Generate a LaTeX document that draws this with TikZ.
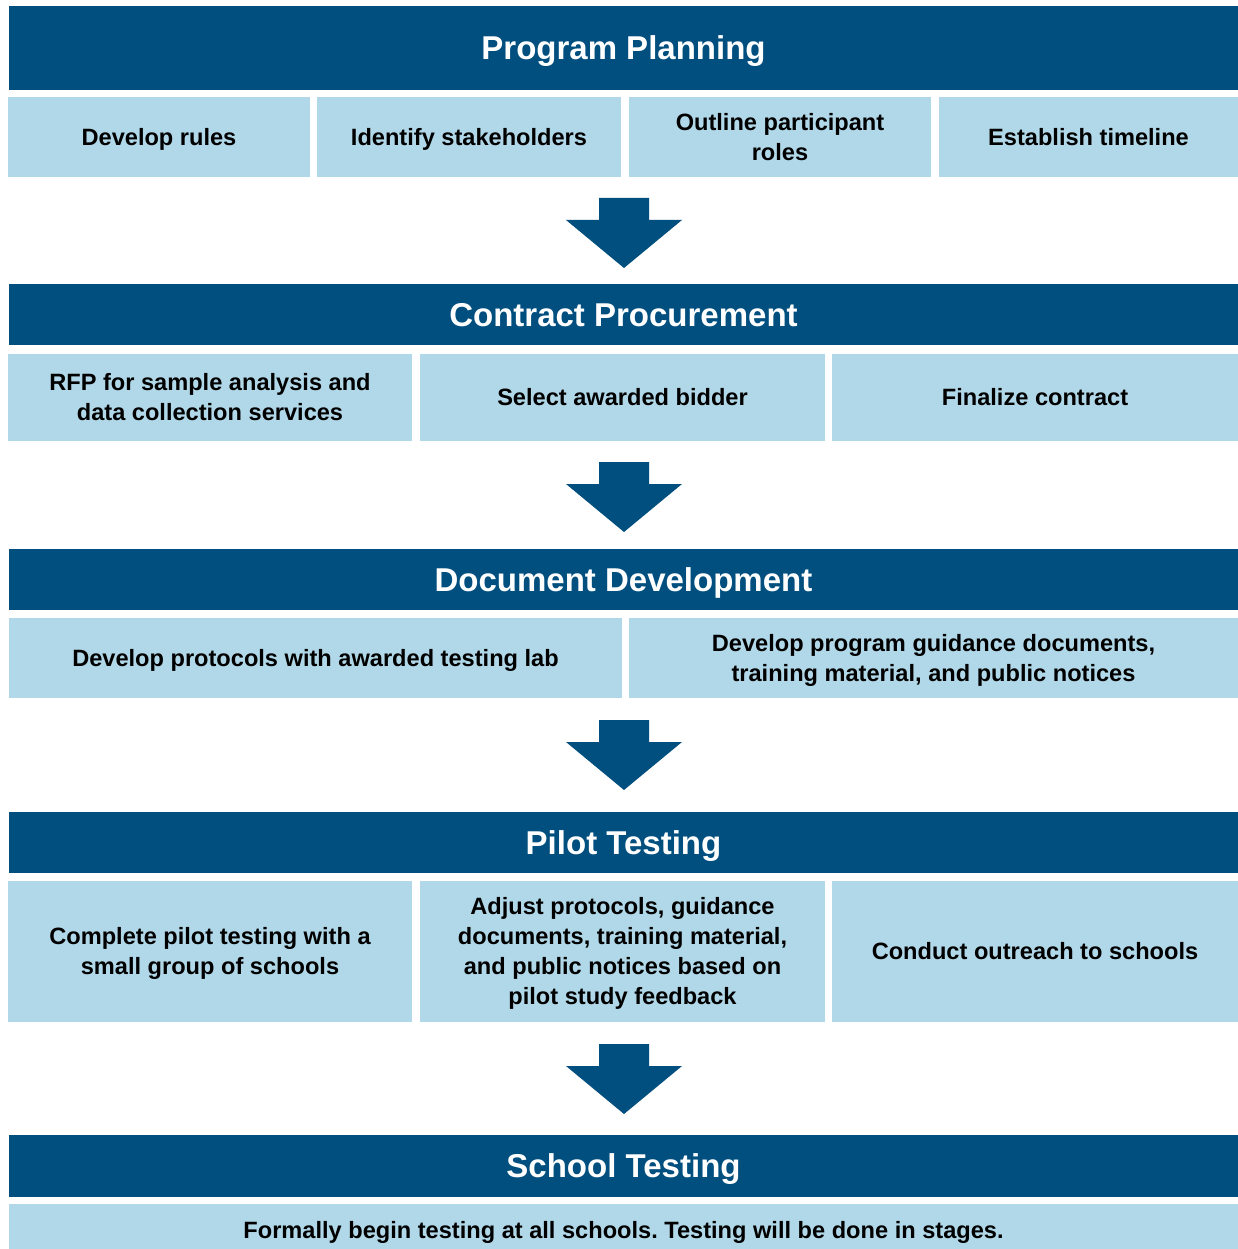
\documentclass[tikz,border=0pt]{standalone}
\usepackage{fontspec}
\setmainfont{Liberation Sans}
\frenchspacing
\definecolor{hdrblue}{HTML}{004F7F}
\definecolor{boxblue}{HTML}{B1D8E8}
\newcommand\ms{\rule[-6.6pt]{0pt}{30pt}}
\newcommand\hs{\rule[-6.4pt]{0pt}{36.4pt}}
\newcommand\bx[7]{\node[#2,minimum width={(#5-#3)*1pt},minimum height={(#6-#4)*1pt}] (#1) at ({(#3+#5)/2},{(#4+#6)/2}) {#7};}
\newcommand\blockarrow[2]{\fill[hdrblue] (599,#1) -- (649,#1) -- (649,#1+22) -- (682,#1+22) -- (624,#1+70) coordinate (#2) -- (566,#1+22) -- (599,#1+22) -- cycle;}
\begin{document}
\begin{tikzpicture}[x=1pt,y=-1pt,
  hdr/.style={fill=hdrblue, text=white, font=\fontsize{33}{38}\selectfont\bfseries, inner sep=0pt, outer sep=0pt},
  sub/.style={fill=boxblue, text=black, font=\fontsize{23.6}{30}\selectfont\bfseries, align=center, inner sep=0pt, outer sep=0pt}]
\useasboundingbox[fill=white] (0,0) rectangle (1238,1249);
% Program Planning
\bx{h1}{hdr}{9}{6}{1238}{90}{\hs Program Planning}
\bx{a1}{sub}{8}{97}{310}{177}{\ms Develop rules}
\bx{a2}{sub}{317}{97}{621}{177}{\ms Identify stakeholders}
\bx{a3}{sub}{629}{97}{931}{177}{\ms Outline participant\\\ms roles}
\bx{a4}{sub}{939}{97}{1238}{177}{\ms Establish timeline}
\blockarrow{198}{t1}
% Contract Procurement
\bx{h2}{hdr}{9}{284}{1238}{345}{\hs Contract Procurement}
\bx{b1}{sub}{8}{354}{412}{441}{\ms RFP for sample analysis and\\\ms data collection services}
\bx{b2}{sub}{420}{354}{825}{441}{\ms Select awarded bidder}
\bx{b3}{sub}{832}{354}{1238}{441}{\ms Finalize contract}
\blockarrow{462}{t2}
% Document Development
\bx{h3}{hdr}{9}{549}{1238}{610}{\hs Document Development}
\bx{c1}{sub}{9}{618}{622}{698}{\ms Develop protocols with awarded testing lab}
\bx{c2}{sub}{629}{618}{1238}{698}{\ms Develop program guidance documents,\\\ms training material, and public notices}
\blockarrow{720}{t3}
% Pilot Testing
\bx{h4}{hdr}{9}{812}{1238}{873}{\hs Pilot Testing}
\bx{d1}{sub}{8}{881}{412}{1022}{\ms Complete pilot testing with a\\\ms small group of schools}
\bx{d2}{sub}{420}{881}{825}{1022}{\ms Adjust protocols, guidance\\\ms documents, training material,\\\ms and public notices based on\\\ms pilot study feedback}
\bx{d3}{sub}{832}{881}{1238}{1022}{\ms Conduct outreach to schools}
\blockarrow{1044}{t4}
% School Testing
\bx{h5}{hdr}{9}{1135}{1238}{1197}{\hs School Testing}
\bx{e1}{sub}{9}{1204}{1238}{1256}{\ms Formally begin testing at all schools. Testing will be done in stages.}
\end{tikzpicture}
\end{document}
